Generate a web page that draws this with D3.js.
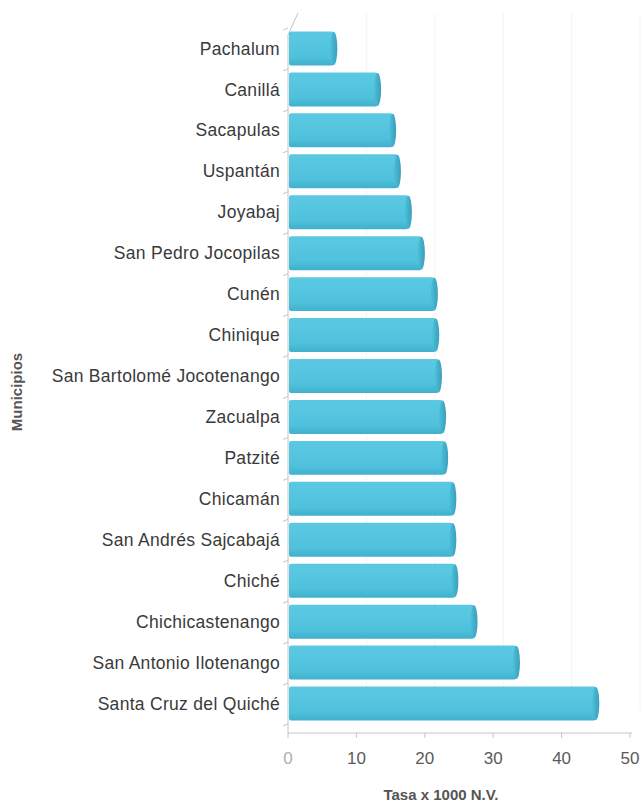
<!DOCTYPE html>
<html>
<head>
<meta charset="utf-8">
<script src="https://cdn.jsdelivr.net/npm/d3@7"></script>
<style>
  body { margin: 0; background: #fff; }
  svg { display: block; font-family: "Liberation Sans", Arial, sans-serif; }
</style>
</head>
<body>
<div id="chart"></div>
<script>
const municipios = ["Pachalum", "Canillá", "Sacapulas", "Uspantán", "Joyabaj",
    "San Pedro Jocopilas", "Cunén", "Chinique", "San Bartolomé Jocotenango",
    "Zacualpa", "Patzité", "Chicamán", "San Andrés Sajcabajá", "Chiché",
    "Chichicastenango", "San Antonio Ilotenango", "Santa Cruz del Quiché"];
const tasas = [6.7, 13.1, 15.3, 16.0, 17.6, 19.5, 21.4, 21.6, 22.0, 22.6, 22.9,
    24.1, 24.1, 24.4, 27.2, 33.4, 45.0];
const xTicks = [0, 10, 20, 30, 40, 50];

const W = 641, H = 804;
const depth = { dx: 10, dy: -22 };

const svg = d3.select("#chart").append("svg")
    .attr("width", W)
    .attr("height", H);

const x = d3.scaleLinear().domain([0, 50]).range([288, 630]);
const y = d3.scaleBand().domain(municipios)
    .range([28, 724])
    .paddingInner(0.17)
    .paddingOuter(0.085);

const floorY = 733;
const topY = 35;

// gradient for the cylinders
const defs = svg.append("defs");
const grad = defs.append("linearGradient")
    .attr("id", "cyl")
    .attr("x1", 0).attr("y1", 0).attr("x2", 0).attr("y2", 1);
grad.append("stop").attr("offset", "0%").attr("stop-color", "#5cc8e1");
grad.append("stop").attr("offset", "25%").attr("stop-color", "#58c7e1");
grad.append("stop").attr("offset", "75%").attr("stop-color", "#4fc1dc");
grad.append("stop").attr("offset", "100%").attr("stop-color", "#40b0cc");

const capGrad = defs.append("linearGradient")
    .attr("id", "cap")
    .attr("x1", 0).attr("y1", 0).attr("x2", 1).attr("y2", 0);
capGrad.append("stop").attr("offset", "0%").attr("stop-color", "#4dbfda");
capGrad.append("stop").attr("offset", "100%").attr("stop-color", "#3a9fbb");

// back wall grid lines (very faint)
svg.append("g").selectAll("line")
    .data(xTicks.slice(1))
    .join("line")
    .attr("x1", d => x(d) + depth.dx)
    .attr("x2", d => x(d) + depth.dx)
    .attr("y1", topY + depth.dy)
    .attr("y2", floorY + depth.dy)
    .attr("stroke", "#f4f4f4")
    .attr("stroke-width", 1);

// frame
const frame = svg.append("g").attr("stroke", "#c4c4c4").attr("fill", "none");
frame.append("line")
    .attr("x1", x(0)).attr("x2", x(0))
    .attr("y1", topY).attr("y2", floorY);
frame.append("line")
    .attr("x1", x(0)).attr("y1", topY)
    .attr("x2", x(0) + depth.dx).attr("y2", topY + depth.dy);
frame.append("line")
    .attr("x1", x(0)).attr("x2", x(50) + 2)
    .attr("y1", floorY).attr("y2", floorY);

// category tick marks on the left
const half = y.step() * y.paddingInner() / 2;
const bounds = municipios.map(m => y(m) - half)
    .concat([y(municipios[municipios.length - 1]) + y.bandwidth() + half]);
frame.selectAll("line.ytick")
    .data(bounds)
    .join("line")
    .attr("class", "ytick")
    .attr("x1", x(0) - 5).attr("x2", x(0))
    .attr("y1", d => d + 2).attr("y2", d => d);

// x tick marks
frame.selectAll("line.xtick")
    .data(xTicks)
    .join("line")
    .attr("class", "xtick")
    .attr("x1", d => x(d)).attr("x2", d => x(d))
    .attr("y1", floorY).attr("y2", floorY + 5);

// bars as cylinders
const bars = svg.append("g").selectAll("g")
    .data(municipios.map((m, i) => ({ name: m, value: tasas[i] })))
    .join("g");

bars.append("rect")
    .attr("x", x(0) + 1)
    .attr("y", d => y(d.name))
    .attr("width", d => x(d.value) - x(0) - 1)
    .attr("height", y.bandwidth())
    .attr("rx", 2)
    .attr("fill", "url(#cyl)");

bars.append("ellipse")
    .attr("cx", d => x(d.value))
    .attr("cy", d => y(d.name) + y.bandwidth() / 2)
    .attr("rx", 3.5)
    .attr("ry", y.bandwidth() / 2 - 0.5)
    .attr("fill", "url(#cap)");

// category labels
svg.append("g").selectAll("text")
    .data(municipios)
    .join("text")
    .attr("x", 280)
    .attr("y", d => y(d) + y.bandwidth() / 2)
    .attr("dy", "0.35em")
    .attr("text-anchor", "end")
    .attr("font-size", 17.5)
    .attr("letter-spacing", 0.3)
    .attr("fill", "#3a3a3a")
    .text(d => d);

// x tick labels
svg.append("g").selectAll("text")
    .data(xTicks)
    .join("text")
    .attr("x", d => x(d))
    .attr("y", 764)
    .attr("text-anchor", "middle")
    .attr("font-size", 17)
    .attr("fill", d => d === 0 ? "#b0b0b0" : "#5a5a5a")
    .text(d => d);

// axis titles
svg.append("text")
    .attr("x", 441)
    .attr("y", 800)
    .attr("text-anchor", "middle")
    .attr("font-size", 15)
    .attr("font-weight", "bold")
    .attr("fill", "#555")
    .text("Tasa x 1000 N.V.");

svg.append("text")
    .attr("transform", "translate(22,392) rotate(-90)")
    .attr("text-anchor", "middle")
    .attr("font-size", 15)
    .attr("font-weight", "bold")
    .attr("fill", "#555")
    .text("Municipios");
</script>
</body>
</html>
